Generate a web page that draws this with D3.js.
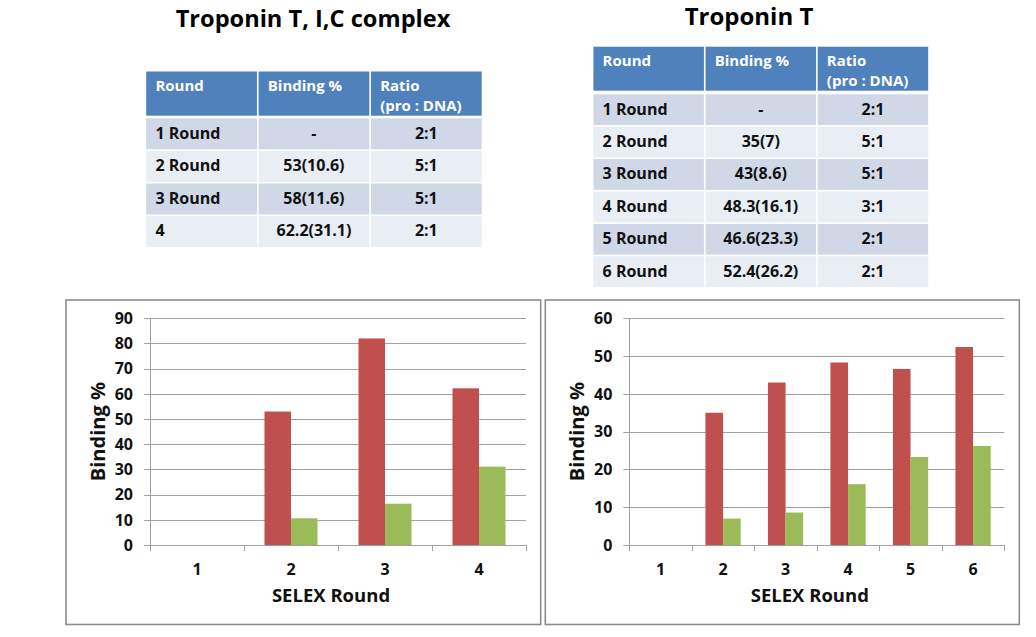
<!DOCTYPE html>
<html>
<head>
<meta charset="utf-8">
<script src="https://cdn.jsdelivr.net/npm/d3@7"></script>
<style>
  html, body { margin: 0; padding: 0; background: #ffffff; }
  svg { display: block; font-family: "Open Sans", "DejaVu Sans", sans-serif; }
</style>
</head>
<body>
<svg id="chart" width="1036" height="637"></svg>
<script>
// ---------- DATA ----------
const leftTitle = "Troponin T, I,C complex";
const rightTitle = "Troponin T";

const tableHeader = ["Round", "Binding %", "Ratio"];
const tableHeaderLine2 = ["", "", "(pro : DNA)"];

const leftRounds = ["1 Round", "2 Round", "3 Round", "4"];
const leftBinding = ["-", "53(10.6)", "58(11.6)", "62.2(31.1)"];
const leftRatio = ["2:1", "5:1", "5:1", "2:1"];

const rightRounds = ["1 Round", "2 Round", "3 Round", "4 Round", "5 Round", "6 Round"];
const rightBinding = ["-", "35(7)", "43(8.6)", "48.3(16.1)", "46.6(23.3)", "52.4(26.2)"];
const rightRatio = ["2:1", "5:1", "5:1", "3:1", "2:1", "2:1"];

const leftCategories = ["1", "2", "3", "4"];
const leftRed = [null, 53, 82, 62.2];
const leftGreen = [null, 10.6, 16.4, 31.1];
const leftYTicks = [0, 10, 20, 30, 40, 50, 60, 70, 80, 90];

const rightCategories = ["1", "2", "3", "4", "5", "6"];
const rightRed = [null, 35, 43, 48.3, 46.6, 52.4];
const rightGreen = [null, 7, 8.6, 16.1, 23.3, 26.2];
const rightYTicks = [0, 10, 20, 30, 40, 50, 60];

const xAxisTitle = "SELEX Round";
const yAxisTitle = "Binding %";

// ---------- STYLE ----------
const RED = "#c0504d", GREEN = "#9bbb59";
const HEAD = "#4f81bd", ROW_A = "#d0d8e8", ROW_B = "#e9edf4";
const GRID = "#a0a0a0", BORDER = "#8c8c8c";

const svg = d3.select("#chart");

// ---------- TITLES ----------
svg.append("text").attr("x", 313).attr("y", 27).attr("text-anchor", "middle")
  .attr("font-size", 23.6).attr("font-weight", 700).attr("fill", "#000").text(leftTitle);
svg.append("text").attr("x", 749).attr("y", 25).attr("text-anchor", "middle")
  .attr("font-size", 24).attr("font-weight", 700).attr("fill", "#000").text(rightTitle);

// ---------- TABLES ----------
function drawTable(cfg) {
  const g = svg.append("g");
  const cols = d3.scaleBand().domain(d3.range(3)).range([cfg.x0, cfg.x1]);
  const gap = 1.6;
  // header
  g.selectAll("rect.h").data(d3.range(3)).join("rect")
    .attr("x", i => cols(i) + gap / 2).attr("y", cfg.headTop)
    .attr("width", cols.bandwidth() - gap).attr("height", cfg.headH)
    .attr("fill", HEAD);
  g.selectAll("text.h1").data(tableHeader).join("text")
    .attr("x", (d, i) => cols(i) + 10).attr("y", cfg.headTop + 19)
    .attr("font-size", 15).attr("font-weight", 700).attr("fill", "#fff").text(d => d);
  g.selectAll("text.h2").data(tableHeaderLine2).join("text")
    .attr("x", (d, i) => cols(i) + 10).attr("y", cfg.headTop + 39.5)
    .attr("font-size", 15).attr("font-weight", 700).attr("fill", "#fff").text(d => d);
  // body
  const rows = cfg.rounds.map((r, i) => [r, cfg.binding[i], cfg.ratio[i]]);
  rows.forEach((row, ri) => {
    const top = cfg.rowTop + ri * cfg.rowStep;
    row.forEach((val, ci) => {
      g.append("rect").attr("x", cols(ci) + gap / 2).attr("y", top)
        .attr("width", cols.bandwidth() - gap).attr("height", cfg.rowStep - gap)
        .attr("fill", ri % 2 === 0 ? ROW_A : ROW_B);
      const t = g.append("text").attr("y", top + 20.3)
        .attr("font-size", 16).attr("font-weight", 700).attr("fill", "#111").text(val);
      if (ci === 0) t.attr("x", cols(ci) + 10);
      else t.attr("x", cols(ci) + cols.bandwidth() / 2).attr("text-anchor", "middle");
    });
  });
}

drawTable({ x0: 145.4, x1: 482.5, headTop: 71.5, headH: 44.2, rowTop: 118.3, rowStep: 32.6,
  rounds: leftRounds, binding: leftBinding, ratio: leftRatio });
drawTable({ x0: 592.6, x1: 929, headTop: 46.7, headH: 44, rowTop: 94.3, rowStep: 32.4,
  rounds: rightRounds, binding: rightBinding, ratio: rightRatio });

// ---------- CHARTS ----------
function drawChart(cfg) {
  const g = svg.append("g");
  // frame
  g.append("rect").attr("x", cfg.box[0]).attr("y", cfg.box[1])
    .attr("width", cfg.box[2] - cfg.box[0]).attr("height", cfg.box[3] - cfg.box[1])
    .attr("fill", "#fff").attr("stroke", BORDER).attr("stroke-width", 1.6);

  const x = d3.scaleBand().domain(cfg.categories).range([cfg.left, cfg.right]).padding(0);
  const x1 = d3.scaleBand().domain(["red", "green"]).range([0, x.bandwidth()])
    .paddingInner(0).paddingOuter(0.773);
  const y = d3.scaleLinear().domain([0, d3.max(cfg.yTicks)]).range([cfg.bottom, cfg.top]);

  // gridlines
  g.selectAll("line.grid").data(cfg.yTicks).join("line")
    .attr("x1", cfg.left - 6).attr("x2", cfg.right)
    .attr("y1", d => Math.round(y(d)) + 0.5).attr("y2", d => Math.round(y(d)) + 0.5)
    .attr("stroke", GRID).attr("stroke-width", 1);
  // y axis line
  g.append("line").attr("x1", Math.round(cfg.left) + 0.5).attr("x2", Math.round(cfg.left) + 0.5)
    .attr("y1", cfg.top).attr("y2", cfg.bottom).attr("stroke", GRID);
  // x tick marks at category boundaries
  const bounds = cfg.categories.map(c => x(c)).concat([cfg.right]);
  g.selectAll("line.xt").data(bounds).join("line")
    .attr("x1", d => Math.round(d) + 0.5).attr("x2", d => Math.round(d) + 0.5)
    .attr("y1", cfg.bottom).attr("y2", cfg.bottom + 6).attr("stroke", GRID);

  // bars
  const data = cfg.categories.map((c, i) => ({ c, red: cfg.red[i], green: cfg.green[i] }));
  ["red", "green"].forEach(k => {
    g.selectAll("rect." + k).data(data.filter(d => d[k] != null)).join("rect")
      .attr("x", d => x(d.c) + x1(k)).attr("width", x1.bandwidth())
      .attr("y", d => y(d[k])).attr("height", d => y(0) - y(d[k]))
      .attr("fill", k === "red" ? RED : GREEN);
  });

  // y tick labels
  g.selectAll("text.yl").data(cfg.yTicks).join("text")
    .attr("x", cfg.left - 17).attr("y", d => y(d) + 5.7).attr("text-anchor", "end")
    .attr("font-size", 16).attr("font-weight", 700).attr("fill", "#111").text(d => d);
  // x tick labels
  g.selectAll("text.xl").data(cfg.categories).join("text")
    .attr("x", d => x(d) + x.bandwidth() / 2).attr("y", cfg.bottom + 29.5)
    .attr("text-anchor", "middle")
    .attr("font-size", 16).attr("font-weight", 700).attr("fill", "#111").text(d => d);
  // axis titles
  g.append("text").attr("x", (cfg.left + cfg.right) / 2 - 7).attr("y", cfg.bottom + 57)
    .attr("text-anchor", "middle").attr("font-size", 18.5).attr("font-weight", 700)
    .attr("fill", "#111").text(xAxisTitle);
  g.append("text")
    .attr("transform", `translate(${cfg.left - 45},${(cfg.top + cfg.bottom) / 2}) rotate(-90)`)
    .attr("text-anchor", "middle").attr("font-size", 20).attr("font-weight", 700)
    .attr("fill", "#111").text(yAxisTitle);
}

drawChart({ box: [66, 300, 540.7, 624.5], left: 150, right: 526, top: 318.3, bottom: 545,
  categories: leftCategories, red: leftRed, green: leftGreen, yTicks: leftYTicks });
drawChart({ box: [545.3, 300, 1019.3, 624.5], left: 629.3, right: 1004.3, top: 318.3, bottom: 545,
  categories: rightCategories, red: rightRed, green: rightGreen, yTicks: rightYTicks });
</script>
</body>
</html>
